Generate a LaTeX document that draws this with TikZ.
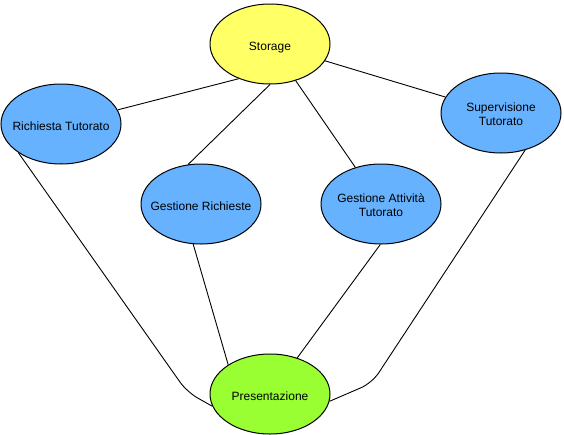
\documentclass[tikz,border=0pt]{standalone}
\usepackage{fontspec}
\setmainfont{Liberation Sans}
\usetikzlibrary{shapes.geometric}
\definecolor{bluef}{HTML}{66B2FF}
\definecolor{yellowf}{HTML}{FFFF66}
\definecolor{greenf}{HTML}{99FF33}
\newcommand{\ctxt}[1]{\makebox[0pt]{\raisebox{-6pt}[0pt][0pt]{#1}}}
\begin{document}
\begin{tikzpicture}[x=1pt,y=-1pt,
  proc/.style={ellipse, draw=black, line width=1pt, minimum width=120pt, minimum height=80pt, inner sep=0pt, font=\fontsize{12}{14}\selectfont},
  link/.style={draw=black, line width=0.9pt, rounded corners=12pt}]
\useasboundingbox (0,0) rectangle (564,434);
\node[proc, fill=yellowf] (st) at (270,44) {\ctxt{Storage}};
\node[proc, fill=bluef] (rt) at (61,124) {\ctxt{Richiesta Tutorato}};
\node[proc, fill=bluef] (gr) at (201,204) {\ctxt{Gestione Richieste}};
\node[proc, fill=bluef] (ga) at (381,204) {\ctxt{\begin{tabular}{@{}c@{}}Gestione Attività\\Tutorato\end{tabular}}};
\node[proc, fill=bluef] (sv) at (501,113) {\ctxt{\begin{tabular}{@{}c@{}}Supervisione\\Tutorato\end{tabular}}};
\node[proc, fill=greenf] (pr) at (270,394) {\ctxt{Presentazione}};
\coordinate (b1) at (187,392);
\coordinate (b2) at (372,383);
\draw[link] (rt.14.7) -- (st.-132.4);
\draw[link] (st.-17.2) -- (sv.164);
\draw[link] (st.-90) -- (gr.108.9);
\draw[link] (st.-55.9) -- (ga.125.1);
\draw[link] (gr.-101) -- (pr.145.1);
\draw[link] (ga.-91.4) -- (pr.53.9);
\draw[link] (rt.-146) -- (b1) -- (pr.-168.3);
\draw[link] (sv.-57) -- (b2) -- (pr.-7.6);
\end{tikzpicture}
\end{document}
